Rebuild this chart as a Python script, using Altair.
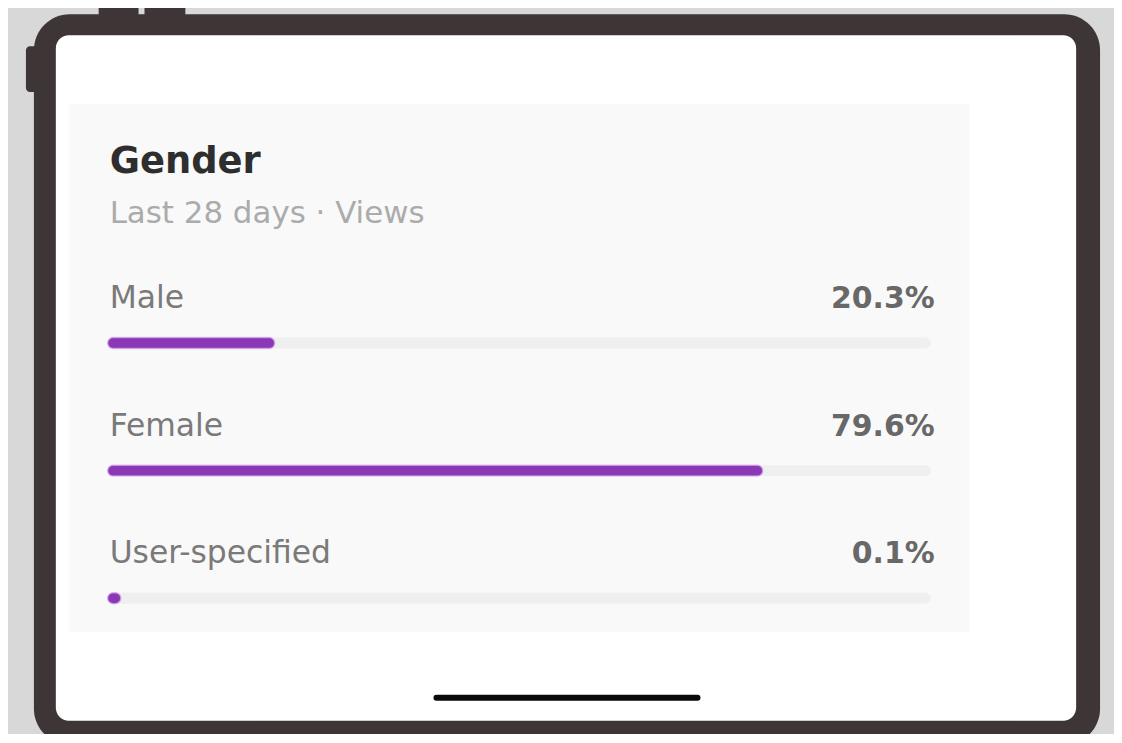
import altair as alt
import pandas as pd

# ---- data ----
categories = ["Male", "Female", "User-specified"]
shares = [20.3, 79.6, 0.1]
title_text = "Gender"
subtitle_text = "Last 28 days · Views"

df = pd.DataFrame({"category": categories, "value": shares})
one = alt.Data(values=[{"k": 0}])

FONT = "DejaVu Sans"
FRAME = "#3e3537"

xscale = alt.Scale(domain=[0, 100], range=[100, 926], nice=False, zero=False)
yscale = alt.Scale(type="point", domain=categories, range=[335, 591], padding=0)


def box(x, x2, y, y2, color, r):
    return alt.Chart(one).mark_rect(color=color, cornerRadius=r).encode(
        x=alt.value(x), x2=alt.value(x2), y=alt.value(y), y2=alt.value(y2)
    )


# device frame
btn1 = box(91, 131, -8, 20, FRAME, 6)
btn2 = box(137, 178, -8, 20, FRAME, 6)
btn3 = box(18, 34, 37, 83, FRAME, 4)
outer = box(26, 1096, 5, 738, FRAME, 36)
inner = box(48, 1072, 26, 714, "#ffffff", 13)
card = box(61, 965, 95, 625, "#f9f9f9", 2)

title = alt.Chart(one).mark_text(
    text=title_text, align="left", baseline="alphabetic", font=FONT,
    fontSize=37, fontWeight="bold", color="#2e2e2e"
).encode(x=alt.value(102), y=alt.value(164))

subtitle = alt.Chart(one).mark_text(
    text=subtitle_text, align="left", baseline="alphabetic", font=FONT,
    fontSize=31, color="#ababab"
).encode(x=alt.value(102), y=alt.value(214))

base = alt.Chart(df).transform_calculate(
    start="0",
    full="100",
    shown="max(datum.value, 1.6)",
    label="format(datum.value, '.1f') + '%'",
)
ypos = alt.Y("category:N", scale=yscale, axis=None)

track = base.mark_bar(height=11, cornerRadius=5.5, color="#efefef").encode(
    x=alt.X("start:Q", scale=xscale, axis=None), x2="full:Q", y=ypos
)

bars = base.mark_bar(
    height=11, cornerRadius=5.5, color="#8a38b5",
    stroke="#d7a9ea", strokeWidth=1.5, strokeOpacity=0.7
).encode(
    x=alt.X("start:Q", scale=xscale, axis=None), x2="shown:Q", y=ypos
)

labels = base.mark_text(
    align="left", baseline="alphabetic", font=FONT, fontSize=31.5,
    color="#7a7a7a", dx=2, dy=-35
).encode(x=alt.X("start:Q", scale=xscale, axis=None), y=ypos, text="category:N")

pcts = base.mark_text(
    align="right", baseline="alphabetic", font=FONT, fontSize=30,
    fontWeight="bold", color="#686868", dx=4, dy=-35
).encode(x=alt.X("full:Q", scale=xscale, axis=None), y=ypos, text="label:N")

home = alt.Chart(one).mark_rule(
    color="#0a0a0a", strokeWidth=6, strokeCap="round"
).encode(x=alt.value(430), x2=alt.value(692), y=alt.value(691))

chart = alt.layer(
    btn1, btn2, btn3, outer, inner, card, title, subtitle,
    track, bars, labels, pcts, home
).properties(
    width=1110, height=726, autosize="none", padding=0, background="#d8d8d8"
).configure_view(strokeWidth=0)

chart.save("out.html", embed_options={"renderer": "svg", "actions": False})
